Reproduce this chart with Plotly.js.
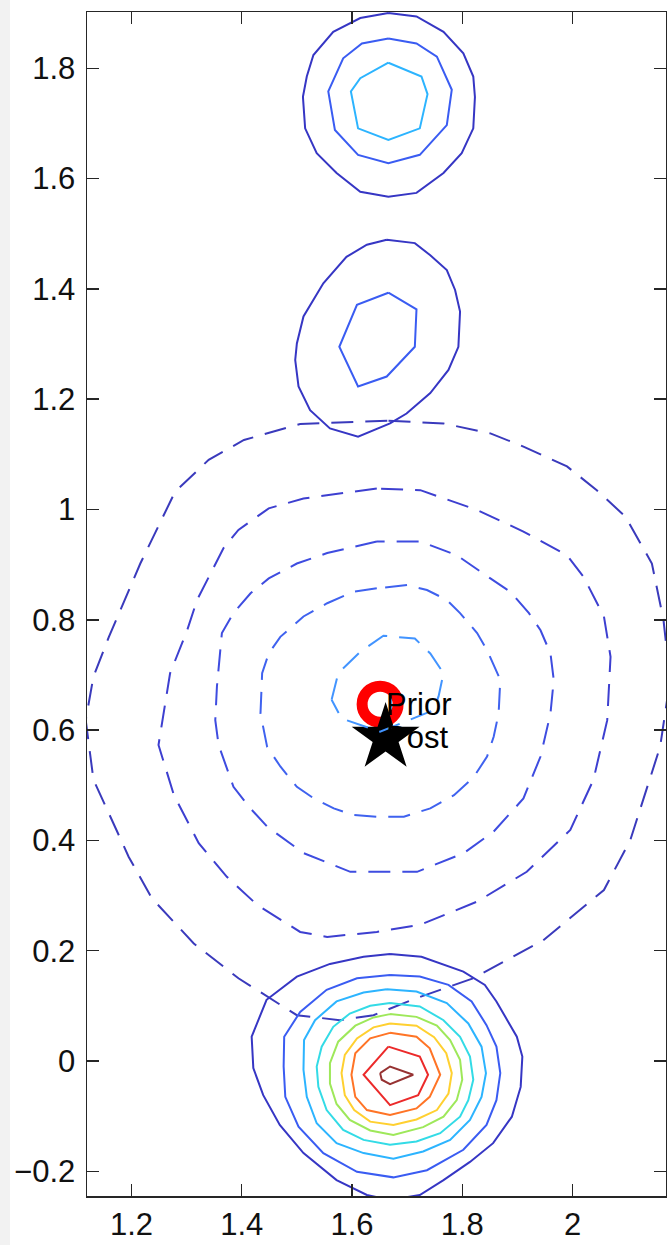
<!DOCTYPE html>
<html><head><meta charset="utf-8">
<script src="https://cdn.plot.ly/plotly-3.0.1.min.js"></script>
<style>
html,body{margin:0;padding:0;background:#f2f2f2;width:667px;height:1245px;overflow:hidden;}
#plot{position:absolute;left:10px;top:0;width:657px;height:1245px;background:#fff;}
</style>
</head><body><div id="plot"></div>
<script>
// ---- tick labels ----
const xTicks = [1.2, 1.4, 1.6, 1.8, 2];
const xTickText = ['1.2', '1.4', '1.6', '1.8', '2'];
const yTicks = [-0.2, 0, 0.2, 0.4, 0.6, 0.8, 1, 1.2, 1.4, 1.6, 1.8];
const yTickText = ['\u22120.2', '0', '0.2', '0.4', '0.6', '0.8', '1', '1.2', '1.4', '1.6', '1.8'];

// ---- solid contours: top blob (levels 1..3) ----
const top1X = [1.666,1.717,1.766,1.802,1.820,1.823,1.820,1.799,1.766,1.717,1.666,1.615,1.572,1.536,1.515,1.511,1.518,1.530,1.566,1.615];
const top1Y = [1.900,1.894,1.866,1.827,1.785,1.748,1.691,1.646,1.610,1.574,1.567,1.576,1.610,1.646,1.691,1.748,1.785,1.824,1.866,1.891];
const top2X = [1.666,1.717,1.754,1.781,1.772,1.723,1.666,1.611,1.569,1.557,1.584,1.618];
const top2Y = [1.854,1.845,1.821,1.761,1.697,1.643,1.628,1.643,1.688,1.758,1.818,1.845];
const top3X = [1.666,1.726,1.737,1.723,1.666,1.611,1.598,1.615];
const top3Y = [1.810,1.785,1.753,1.691,1.670,1.691,1.758,1.782];

// ---- solid contours: middle blob (levels 1..2) ----
const mid1X = [1.663,1.714,1.742,1.772,1.787,1.796,1.793,1.775,1.742,1.699,1.669,1.611,1.560,1.524,1.503,1.497,1.500,1.512,1.548,1.590,1.627];
const mid1Y = [1.489,1.483,1.461,1.434,1.398,1.359,1.295,1.253,1.211,1.174,1.156,1.132,1.147,1.180,1.223,1.271,1.301,1.350,1.410,1.458,1.480];
const mid2X = [1.666,1.717,1.714,1.663,1.611,1.577,1.609];
const mid2Y = [1.393,1.363,1.295,1.241,1.223,1.295,1.371];

// ---- solid contours: bottom blob (levels 1..9) ----
const bot1X = [1.669,1.726,1.802,1.841,1.862,1.899,1.909,1.906,1.890,1.856,1.814,1.766,1.723,1.669,1.627,1.572,1.512,1.469,1.439,1.421,1.418,1.445,1.500,1.560,1.621];
const bot1Y = [0.194,0.189,0.162,0.138,0.108,0.044,0.008,-0.047,-0.101,-0.149,-0.183,-0.216,-0.243,-0.252,-0.243,-0.216,-0.167,-0.116,-0.062,-0.013,0.044,0.111,0.153,0.176,0.189];
const bot2X = [1.669,1.723,1.775,1.817,1.844,1.862,1.869,1.862,1.844,1.802,1.736,1.675,1.609,1.548,1.503,1.479,1.476,1.477,1.506,1.554,1.609];
const bot2Y = [0.156,0.153,0.138,0.108,0.065,0.026,-0.022,-0.071,-0.116,-0.161,-0.198,-0.211,-0.201,-0.167,-0.119,-0.065,-0.010,0.044,0.089,0.129,0.150];
const bot3X = [1.663,1.717,1.772,1.811,1.835,1.843,1.835,1.814,1.778,1.729,1.675,1.621,1.572,1.536,1.518,1.512,1.513,1.533,1.572,1.621];
const bot3Y = [0.130,0.126,0.105,0.068,0.026,-0.022,-0.065,-0.107,-0.143,-0.164,-0.177,-0.167,-0.149,-0.113,-0.065,-0.016,0.038,0.074,0.108,0.124];
const bot4X = [1.669,1.723,1.766,1.796,1.814,1.820,1.811,1.796,1.760,1.717,1.669,1.621,1.584,1.554,1.539,1.536,1.545,1.566,1.596,1.633];
const bot4Y = [0.105,0.099,0.074,0.044,0.008,-0.034,-0.071,-0.101,-0.131,-0.146,-0.152,-0.143,-0.125,-0.089,-0.047,-0.010,0.026,0.062,0.086,0.100];
const bot5X = [1.669,1.717,1.754,1.778,1.796,1.800,1.790,1.766,1.729,1.675,1.633,1.596,1.572,1.560,1.560,1.575,1.606,1.639];
const bot5Y = [0.085,0.080,0.064,0.038,0.002,-0.034,-0.071,-0.101,-0.120,-0.134,-0.126,-0.107,-0.078,-0.041,-0.004,0.035,0.064,0.079];
const bot6X = [1.669,1.717,1.749,1.771,1.781,1.775,1.754,1.717,1.675,1.633,1.604,1.587,1.581,1.587,1.609,1.639];
const bot6Y = [0.068,0.064,0.043,0.014,-0.022,-0.059,-0.089,-0.106,-0.116,-0.110,-0.089,-0.062,-0.022,0.011,0.041,0.061];
const bot7X = [1.669,1.717,1.741,1.760,1.741,1.717,1.669,1.627,1.606,1.599,1.606,1.633];
const bot7Y = [0.051,0.044,0.023,-0.025,-0.065,-0.086,-0.098,-0.089,-0.065,-0.025,0.014,0.041];
const bot8X = [1.666,1.723,1.738,1.720,1.669,1.621];
const bot8Y = [0.026,0.008,-0.025,-0.062,-0.080,-0.025];
const bot9X = [1.651,1.669,1.711,1.669,1.654];
const bot9Y = [-0.022,-0.010,-0.025,-0.042,-0.034];

// ---- dashed contours (outer R5 .. inner R1) ----
const r5X = [1.664,1.506,1.404,1.340,1.279,1.216,1.159,1.131,1.117,1.131,1.195,1.237,1.313,1.394,1.500,1.578,1.639,1.717,1.820,1.947,2.057,2.105,2.159,2.177,2.165,2.144,2.096,2.044,1.990,1.911,1.851,1.766];
const r5Y = [1.161,1.155,1.126,1.090,1.032,0.902,0.769,0.697,0.618,0.510,0.370,0.295,0.213,0.150,0.083,0.074,0.083,0.114,0.150,0.219,0.310,0.401,0.570,0.691,0.800,0.902,0.987,1.035,1.078,1.114,1.138,1.156];
const r4X = [1.645,1.579,1.512,1.449,1.394,1.367,1.319,1.301,1.270,1.249,1.277,1.322,1.373,1.428,1.506,1.555,1.645,1.724,1.827,1.917,1.996,2.038,2.063,2.069,2.057,2.020,1.990,1.911,1.827,1.724];
const r4Y = [1.038,1.029,1.020,1.002,0.963,0.930,0.836,0.781,0.703,0.573,0.482,0.395,0.334,0.283,0.234,0.225,0.234,0.247,0.289,0.343,0.419,0.510,0.618,0.733,0.806,0.878,0.917,0.960,0.999,1.035];
const r3X = [1.645,1.555,1.500,1.449,1.416,1.385,1.364,1.355,1.352,1.358,1.385,1.413,1.446,1.512,1.597,1.718,1.803,1.857,1.911,1.942,1.960,1.966,1.960,1.942,1.921,1.887,1.851,1.790,1.724];
const r3Y = [0.942,0.921,0.902,0.875,0.848,0.812,0.776,0.679,0.618,0.573,0.497,0.461,0.425,0.377,0.343,0.343,0.377,0.416,0.476,0.552,0.630,0.691,0.739,0.781,0.812,0.851,0.875,0.917,0.942];
const r2X = [1.645,1.603,1.555,1.512,1.470,1.449,1.437,1.434,1.446,1.470,1.500,1.531,1.567,1.603,1.645,1.694,1.742,1.785,1.821,1.845,1.857,1.866,1.869,1.845,1.827,1.796,1.772,1.736,1.700];
const r2Y = [0.857,0.851,0.830,0.806,0.769,0.739,0.703,0.630,0.570,0.534,0.497,0.476,0.458,0.446,0.443,0.443,0.458,0.482,0.515,0.552,0.588,0.630,0.691,0.745,0.776,0.812,0.836,0.854,0.863];
const r1X = [1.563,1.575,1.615,1.657,1.714,1.742,1.766,1.757,1.748,1.651,1.581];
const r1Y = [0.655,0.703,0.742,0.771,0.766,0.739,0.703,0.661,0.636,0.597,0.621];

// ---- markers and labels ----
const priorX = [1.651];
const priorY = [0.647];
const postX = [1.661];
const postY = [0.586];
const labelText = ['Prior', 'Post'];
const labelX = [1.659, 1.659];
const labelY = [0.646, 0.586];

// ---- styles ----
const levelColors = ['#3636c4', '#3a5cf2', '#2cb4ff', '#33dbe6', '#9ee85a', '#ffd030', '#ff7426', '#ec2a2a', '#963232'];
const dashColors = ['#3a3abc', '#3d3fd0', '#3e4ce0', '#3f62ef', '#4294ff'];

function closed(a) { return a.concat([a[0]]); }

const traces = [];
// markers first (contours overlay them)
traces.push({x: priorX, y: priorY, type: 'scatter', mode: 'markers',
  marker: {symbol: 'circle-open', size: 36, color: '#ff0000', line: {color: '#ff0000', width: 11}},
  hoverinfo: 'skip', showlegend: false});
traces.push({x: postX, y: postY, type: 'scatter', mode: 'markers',
  marker: {symbol: 'star', size: 51, color: '#000000', line: {width: 0}},
  hoverinfo: 'skip', showlegend: false});

const dashed = [[r5X, r5Y], [r4X, r4Y], [r3X, r3Y], [r2X, r2Y], [r1X, r1Y]];
dashed.forEach(function (c, i) {
  traces.push({x: closed(c[0]), y: closed(c[1]), type: 'scatter', mode: 'lines',
    line: {color: dashColors[i], width: 2, dash: '22px,12px'},
    hoverinfo: 'skip', showlegend: false});
});

const solid = [
  [top1X, top1Y, 0], [top2X, top2Y, 1], [top3X, top3Y, 2],
  [mid1X, mid1Y, 0], [mid2X, mid2Y, 1],
  [bot1X, bot1Y, 0], [bot2X, bot2Y, 1], [bot3X, bot3Y, 2], [bot4X, bot4Y, 3],
  [bot5X, bot5Y, 4], [bot6X, bot6Y, 5], [bot7X, bot7Y, 6], [bot8X, bot8Y, 7], [bot9X, bot9Y, 8]
];
solid.forEach(function (c) {
  traces.push({x: closed(c[0]), y: closed(c[1]), type: 'scatter', mode: 'lines',
    line: {color: levelColors[c[2]], width: 2},
    hoverinfo: 'skip', showlegend: false});
});

const annotations = labelText.map(function (t, i) {
  return {x: labelX[i], y: labelY[i], xref: 'x', yref: 'y', text: t, showarrow: false,
    xanchor: 'left', yanchor: 'middle', borderpad: 0,
    font: {family: 'Liberation Sans, Arial, sans-serif', size: 31, color: '#000'}};
});

const axisCommon = {
  showgrid: false, zeroline: false, showline: true, linecolor: '#262626', linewidth: 1.5,
  mirror: 'ticks', ticks: 'inside', ticklen: 12, tickwidth: 1.5, tickcolor: '#262626',
  tickfont: {family: 'Liberation Sans, Arial, sans-serif', size: 31, color: '#111'}
};

const layout = {
  width: 657, height: 1245,
  margin: {l: 77, r: 1, t: 12, b: 49, pad: 0},
  paper_bgcolor: '#ffffff', plot_bgcolor: '#ffffff',
  showlegend: false,
  xaxis: Object.assign({}, axisCommon, {range: [1.1193, 2.1696], tickvals: xTicks, ticktext: xTickText, ticklabelstandoff: 0}),
  yaxis: Object.assign({}, axisCommon, {range: [-0.2448, 1.902], tickvals: yTicks, ticktext: yTickText, ticklabelstandoff: 4}),
  annotations: annotations
};

Plotly.newPlot('plot', traces, layout, {staticPlot: true, displayModeBar: false});
</script>
</body></html>
